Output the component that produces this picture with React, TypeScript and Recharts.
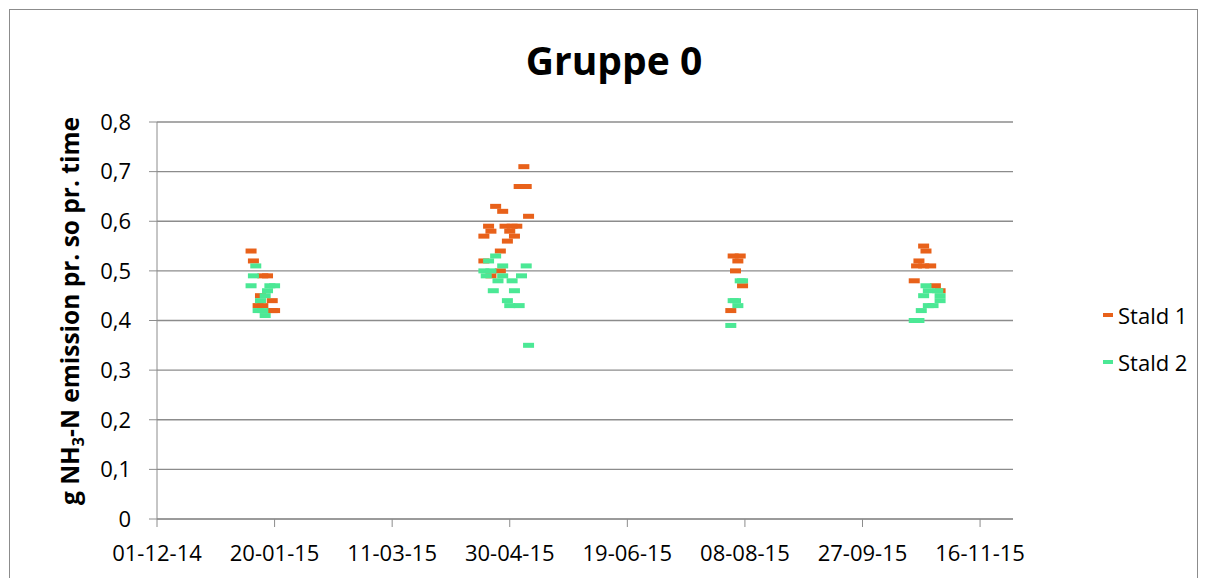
import { ScatterChart, Scatter, XAxis, YAxis, CartesianGrid, Legend } from 'recharts';

// measurements, date as dd-mm-yy
const stald1 = [
  { date: '10-01-15', value: 0.54 },
  { date: '11-01-15', value: 0.52 },
  { date: '15-01-15', value: 0.49 },
  { date: '17-01-15', value: 0.49 },
  { date: '14-01-15', value: 0.45 },
  { date: '19-01-15', value: 0.44 },
  { date: '13-01-15', value: 0.43 },
  { date: '15-01-15', value: 0.43 },
  { date: '19-01-15', value: 0.42 },
  { date: '20-01-15', value: 0.42 },
  { date: '06-05-15', value: 0.71 },
  { date: '04-05-15', value: 0.67 },
  { date: '07-05-15', value: 0.67 },
  { date: '24-04-15', value: 0.63 },
  { date: '27-04-15', value: 0.62 },
  { date: '08-05-15', value: 0.61 },
  { date: '21-04-15', value: 0.59 },
  { date: '28-04-15', value: 0.59 },
  { date: '01-05-15', value: 0.59 },
  { date: '03-05-15', value: 0.59 },
  { date: '22-04-15', value: 0.58 },
  { date: '30-04-15', value: 0.58 },
  { date: '19-04-15', value: 0.57 },
  { date: '02-05-15', value: 0.57 },
  { date: '29-04-15', value: 0.56 },
  { date: '26-04-15', value: 0.54 },
  { date: '19-04-15', value: 0.52 },
  { date: '26-04-15', value: 0.5 },
  { date: '22-04-15', value: 0.49 },
  { date: '03-08-15', value: 0.53 },
  { date: '06-08-15', value: 0.53 },
  { date: '05-08-15', value: 0.52 },
  { date: '04-08-15', value: 0.5 },
  { date: '07-08-15', value: 0.47 },
  { date: '02-08-15', value: 0.42 },
  { date: '23-10-15', value: 0.55 },
  { date: '24-10-15', value: 0.54 },
  { date: '21-10-15', value: 0.52 },
  { date: '20-10-15', value: 0.51 },
  { date: '23-10-15', value: 0.51 },
  { date: '26-10-15', value: 0.51 },
  { date: '19-10-15', value: 0.48 },
  { date: '28-10-15', value: 0.47 },
  { date: '30-10-15', value: 0.46 },
];

const stald2 = [
  { date: '12-01-15', value: 0.51 },
  { date: '11-01-15', value: 0.49 },
  { date: '10-01-15', value: 0.47 },
  { date: '18-01-15', value: 0.47 },
  { date: '20-01-15', value: 0.47 },
  { date: '17-01-15', value: 0.46 },
  { date: '16-01-15', value: 0.45 },
  { date: '14-01-15', value: 0.44 },
  { date: '13-01-15', value: 0.42 },
  { date: '15-01-15', value: 0.42 },
  { date: '16-01-15', value: 0.41 },
  { date: '24-04-15', value: 0.53 },
  { date: '21-04-15', value: 0.52 },
  { date: '27-04-15', value: 0.51 },
  { date: '07-05-15', value: 0.51 },
  { date: '19-04-15', value: 0.5 },
  { date: '22-04-15', value: 0.5 },
  { date: '20-04-15', value: 0.49 },
  { date: '27-04-15', value: 0.49 },
  { date: '05-05-15', value: 0.49 },
  { date: '25-04-15', value: 0.48 },
  { date: '01-05-15', value: 0.48 },
  { date: '23-04-15', value: 0.46 },
  { date: '02-05-15', value: 0.46 },
  { date: '29-04-15', value: 0.44 },
  { date: '30-04-15', value: 0.43 },
  { date: '04-05-15', value: 0.43 },
  { date: '08-05-15', value: 0.35 },
  { date: '06-08-15', value: 0.48 },
  { date: '07-08-15', value: 0.48 },
  { date: '03-08-15', value: 0.44 },
  { date: '04-08-15', value: 0.44 },
  { date: '05-08-15', value: 0.43 },
  { date: '02-08-15', value: 0.39 },
  { date: '24-10-15', value: 0.47 },
  { date: '25-10-15', value: 0.46 },
  { date: '29-10-15', value: 0.46 },
  { date: '23-10-15', value: 0.45 },
  { date: '30-10-15', value: 0.45 },
  { date: '30-10-15', value: 0.44 },
  { date: '25-10-15', value: 0.43 },
  { date: '27-10-15', value: 0.43 },
  { date: '22-10-15', value: 0.42 },
  { date: '19-10-15', value: 0.4 },
  { date: '21-10-15', value: 0.4 },
];

const xTickLabels = ['01-12-14', '20-01-15', '11-03-15', '30-04-15', '19-06-15', '08-08-15', '27-09-15', '16-11-15'];
const xEnd = '30-11-15';
const yTicks = [0, 0.1, 0.2, 0.3, 0.4, 0.5, 0.6, 0.7, 0.8];

const series = [
  { name: 'Stald 1', color: '#e8611a', rows: stald1 },
  { name: 'Stald 2', color: '#4be895', rows: stald2 },
];

const FONT = "'Open Sans', sans-serif";
const AXIS = '#8c8c8c';

// days since the first tick date
const ORIGIN = Date.UTC(2014, 11, 1);
const toDay = (s: string) => {
  const [d, m, y] = s.split('-').map(Number);
  return Math.round((Date.UTC(2000 + y, m - 1, d) - ORIGIN) / 86400000);
};
const pad = (n: number) => String(n).padStart(2, '0');
const fmtDay = (n: number) => {
  const dt = new Date(ORIGIN + n * 86400000);
  return `${pad(dt.getUTCDate())}-${pad(dt.getUTCMonth() + 1)}-${pad(dt.getUTCFullYear() % 100)}`;
};
const fmtY = (v: number) => (v === 0 ? '0' : v.toFixed(1).replace('.', ','));

const dash = (color: string) => (props: any) =>
  <rect x={props.cx - 5.5} y={props.cy - 2.5} width={11} height={5} fill={color} />;

const LegendBox = () => (
  <div style={{ fontFamily: FONT, fontSize: 22, color: '#000' }}>
    {series.map((s) => (
      <div key={s.name} style={{ display: 'flex', alignItems: 'center', height: 47 }}>
        <span style={{ width: 10, height: 4, background: s.color, marginRight: 5 }} />
        <span>{s.name}</span>
      </div>
    ))}
  </div>
);

export default function App() {
  return (
    <div style={{ position: 'absolute', left: 0, top: 0, width: 1208, height: 578, background: '#fff', overflow: 'hidden' }}>
      <div
        style={{
          position: 'absolute',
          left: 9,
          top: 9,
          width: 1187,
          height: 580,
          border: `1px solid ${AXIS}`,
          borderBottom: 'none',
        }}
      />
      <div style={{ position: 'absolute', left: 0, top: 0 }}>
        <ScatterChart width={1208} height={578} margin={{ top: 122, right: 195, bottom: 0, left: 0 }} style={{ fontFamily: FONT }}>
          <CartesianGrid vertical={false} stroke={AXIS} strokeWidth={1.3} />
          <XAxis
            type="number"
            dataKey="day"
            domain={[0, toDay(xEnd)]}
            ticks={xTickLabels.map(toDay)}
            tickFormatter={fmtDay}
            height={59}
            tickSize={8}
            tickMargin={18}
            stroke={AXIS}
            tick={{ fill: '#000', fontSize: 22 }}
            allowDataOverflow
          />
          <YAxis
            type="number"
            dataKey="value"
            domain={[0, 0.8]}
            ticks={yTicks}
            tickFormatter={fmtY}
            width={157}
            tickSize={8}
            tickMargin={18}
            stroke={AXIS}
            tick={{ fill: '#000', fontSize: 22 }}
          />
          <Legend
            layout="horizontal"
            verticalAlign="middle"
            align="center"
            wrapperStyle={{ left: 1103, top: 291, width: 100, height: 94 }}
            content={() => <LegendBox />}
          />
          {series.map((s) => (
            <Scatter
              key={s.name}
              name={s.name}
              data={s.rows.map((r) => ({ day: toDay(r.date), value: r.value }))}
              fill={s.color}
              shape={dash(s.color)}
              isAnimationActive={false}
            />
          ))}
        </ScatterChart>
      </div>
      <svg width={1208} height={578} style={{ position: 'absolute', left: 0, top: 0, pointerEvents: 'none' }}>
        <text x={614} y={75} textAnchor="middle" fontFamily={FONT} fontWeight="bold" fontSize={39} fill="#000">
          Gruppe 0
        </text>
        <text
          transform="translate(79,311) rotate(-90)"
          textAnchor="middle"
          fontFamily={FONT}
          fontWeight="bold"
          fontSize={24.5}
          fill="#000"
        >
          g NH<tspan fontSize={16} dy={5}>3</tspan>
          <tspan dy={-5}>-N emission pr. so pr. time</tspan>
        </text>
      </svg>
    </div>
  );
}
